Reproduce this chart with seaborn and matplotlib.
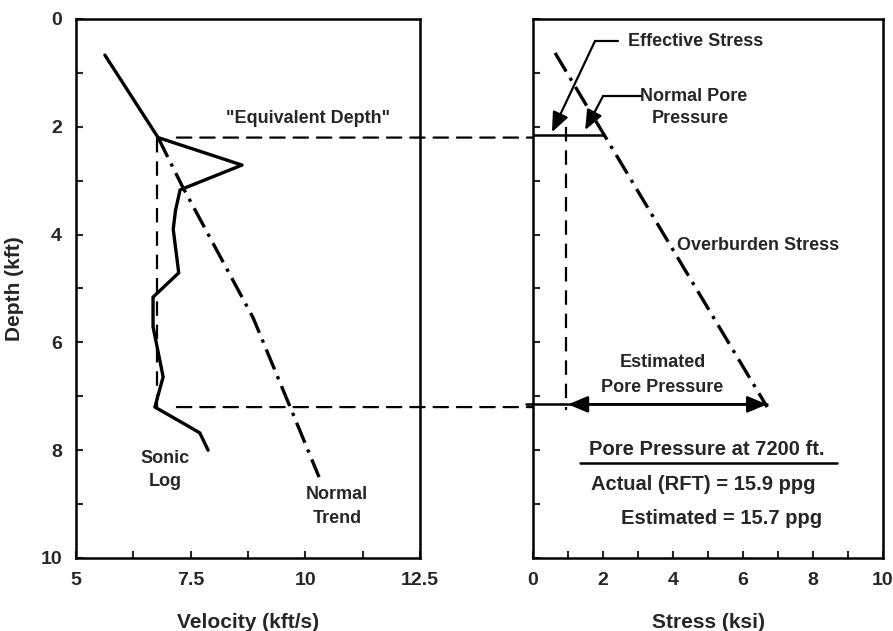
import matplotlib
matplotlib.use("Agg")
import matplotlib.pyplot as plt
from matplotlib.patches import ConnectionPatch
from matplotlib.ticker import MultipleLocator
import pandas as pd
import seaborn as sns

# Sonic log (velocity vs depth)
sonic_velocity = [5.63, 6.79, 8.62, 7.27, 7.17, 7.12, 7.24, 6.68, 6.68, 6.90, 6.72, 7.48, 7.70, 7.88]
sonic_depth = [0.67, 2.20, 2.71, 3.17, 3.55, 3.90, 4.71, 5.16, 5.71, 6.64, 7.20, 7.57, 7.68, 8.00]

# Normal compaction trend
trend_velocity = [6.79, 7.31, 8.86, 9.66, 10.30]
trend_depth = [2.20, 3.09, 5.54, 7.18, 8.50]

# Overburden stress
overburden_stress = [0.63, 6.69]
overburden_depth = [0.63, 7.20]

equivalent_depth = 2.2      # kft
target_depth = 7.2          # kft
equivalent_velocity = 6.76  # kft/s
normal_pore_stress = 0.95   # ksi at equivalent depth
overburden_at_equiv = 2.0   # ksi
estimated_pp_stress = [1.0, 6.69]
actual_ppg = 15.9
estimated_ppg = 15.7

sns.set_style("white")
plt.rcParams["font.family"] = ["Liberation Sans", "DejaVu Sans"]
plt.rcParams["font.weight"] = "bold"
plt.rcParams["axes.labelweight"] = "bold"

fig = plt.figure(figsize=(8.93, 6.31), dpi=100)
ax1 = fig.add_axes([0.0851, 0.1157, 0.3852, 0.8542])
ax2 = fig.add_axes([0.5969, 0.1157, 0.3919, 0.8542])

LW = 2.4
dashdot = (0, (6.5, 2.2, 1, 2.2))
dashed = (0, (6.5, 4))

sonic = pd.DataFrame({"velocity": sonic_velocity, "depth": sonic_depth})
trend = pd.DataFrame({"velocity": trend_velocity, "depth": trend_depth})
over = pd.DataFrame({"stress": overburden_stress, "depth": overburden_depth})

sns.lineplot(data=sonic, x="velocity", y="depth", sort=False, estimator=None,
             color="black", lw=LW, ax=ax1)
sns.lineplot(data=trend, x="velocity", y="depth", sort=False, estimator=None,
             color="black", lw=LW, linestyle=dashdot, ax=ax1)
sns.lineplot(data=over, x="stress", y="depth", sort=False, estimator=None,
             color="black", lw=LW, linestyle=dashdot, ax=ax2)

# vertical construction lines
ax1.plot([equivalent_velocity, equivalent_velocity], [equivalent_depth, target_depth],
         color="black", lw=1.6, linestyle=dashed)
ax2.plot([normal_pore_stress, normal_pore_stress], [2.0, 7.25],
         color="black", lw=1.6, linestyle=dashed)

# horizontal construction lines spanning both panels
for vel, d in [(7.2, equivalent_depth), (7.2, target_depth)]:
    con = ConnectionPatch(xyA=(vel, d), coordsA=ax1.transData,
                          xyB=(0, d), coordsB=ax2.transData,
                          color="black", lw=1.6, linestyle=dashed)
    fig.add_artist(con)

ax2.plot([0, overburden_at_equiv], [2.15, 2.15], color="black", lw=1.8)
ax2.plot([-0.2, estimated_pp_stress[1]], [target_depth - 0.05] * 2, color="black", lw=1.8,
         clip_on=False)
ax2.annotate("", xy=(estimated_pp_stress[0], target_depth - 0.05),
             xytext=(estimated_pp_stress[1], target_depth - 0.05),
             arrowprops=dict(arrowstyle="<|-|>,head_length=0.6,head_width=0.25",
                             lw=1.8, color="black",
                             mutation_scale=20, shrinkA=0, shrinkB=0))


def leader(ax, tip, knee, end):
    ax.plot([knee[0], end], [knee[1], knee[1]], color="black", lw=1.6)
    ax.annotate("", xy=tip, xytext=knee,
                arrowprops=dict(arrowstyle="-|>,head_length=0.6,head_width=0.25",
                                lw=1.6, color="black",
                                mutation_scale=20, shrinkA=0, shrinkB=0))


leader(ax2, (0.54, 2.1), (1.77, 0.41), 2.43)
leader(ax2, (1.49, 2.06), (2.0, 1.43), 3.1)

fs = 13
ax2.text(2.7, 0.42, "Effective Stress", fontsize=fs, va="center", ha="left")
ax2.text(3.05, 1.43, "Normal Pore", fontsize=fs, va="center", ha="left")
ax2.text(3.4, 1.85, "Pressure", fontsize=fs, va="center", ha="left")
ax2.text(4.1, 4.2, "Overburden Stress", fontsize=fs, va="center", ha="left")
ax2.text(3.7, 6.38, "Estimated", fontsize=fs, va="center", ha="center")
ax2.text(3.7, 6.83, "Pore Pressure", fontsize=fs, va="center", ha="center")
ax2.text(4.95, 7.98, "Pore Pressure at 7200 ft.", fontsize=14.5, va="center", ha="center")
ax2.plot([1.34, 8.69], [8.24, 8.24], color="black", lw=1.8)
ax2.text(4.85, 8.63, f"Actual (RFT) = {actual_ppg} ppg", fontsize=14.5, va="center", ha="center")
ax2.text(8.26, 9.26, f"Estimated = {estimated_ppg} ppg", fontsize=14.5, va="center", ha="right")

ax1.text(10.05, 1.84, '"Equivalent Depth"', fontsize=fs, va="center", ha="center")
ax1.text(6.94, 8.16, "Sonic", fontsize=fs, va="center", ha="center")
ax1.text(6.94, 8.59, "Log", fontsize=fs, va="center", ha="center")
ax1.text(10.69, 8.83, "Normal", fontsize=fs, va="center", ha="center")
ax1.text(10.69, 9.26, "Trend", fontsize=fs, va="center", ha="center")

# axes styling
ax1.set_xlim(5, 12.5)
ax1.set_ylim(10, 0)
ax1.xaxis.set_minor_locator(MultipleLocator(1.25))
ax1.set_xticks([5, 7.5, 10, 12.5], ["5", "7.5", "10", "12.5"])
ax2.set_xlim(0, 10)
ax2.set_ylim(10, 0)
ax2.xaxis.set_major_locator(MultipleLocator(2))
ax2.xaxis.set_minor_locator(MultipleLocator(1))

for ax in (ax1, ax2):
    ax.yaxis.set_major_locator(MultipleLocator(2))
    ax.yaxis.set_minor_locator(MultipleLocator(1))
    ax.tick_params(which="both", direction="in", length=5, width=1.5,
                   labelsize=14, pad=10, bottom=True, left=True)
    for s in ax.spines.values():
        s.set_linewidth(1.8)
        s.set_color("black")
    ax.set_xlabel("")
    ax.set_ylabel("")

ax2.tick_params(axis="y", labelleft=False)

for ax in (ax1, ax2):
    for lab in ax.get_xticklabels() + ax.get_yticklabels():
        lab.set_fontweight("bold")

ax1.set_xlabel("Velocity (kft/s)", fontsize=15, fontweight="bold")
ax1.xaxis.set_label_coords(0.5, -0.102)
ax1.set_ylabel("Depth (kft)", fontsize=15, fontweight="bold")
ax1.yaxis.set_label_coords(-0.15, 0.5)
ax2.set_xlabel("Stress (ksi)", fontsize=15, fontweight="bold")
ax2.xaxis.set_label_coords(0.5, -0.102)

fig.savefig("out.png", dpi=100, facecolor="white")
